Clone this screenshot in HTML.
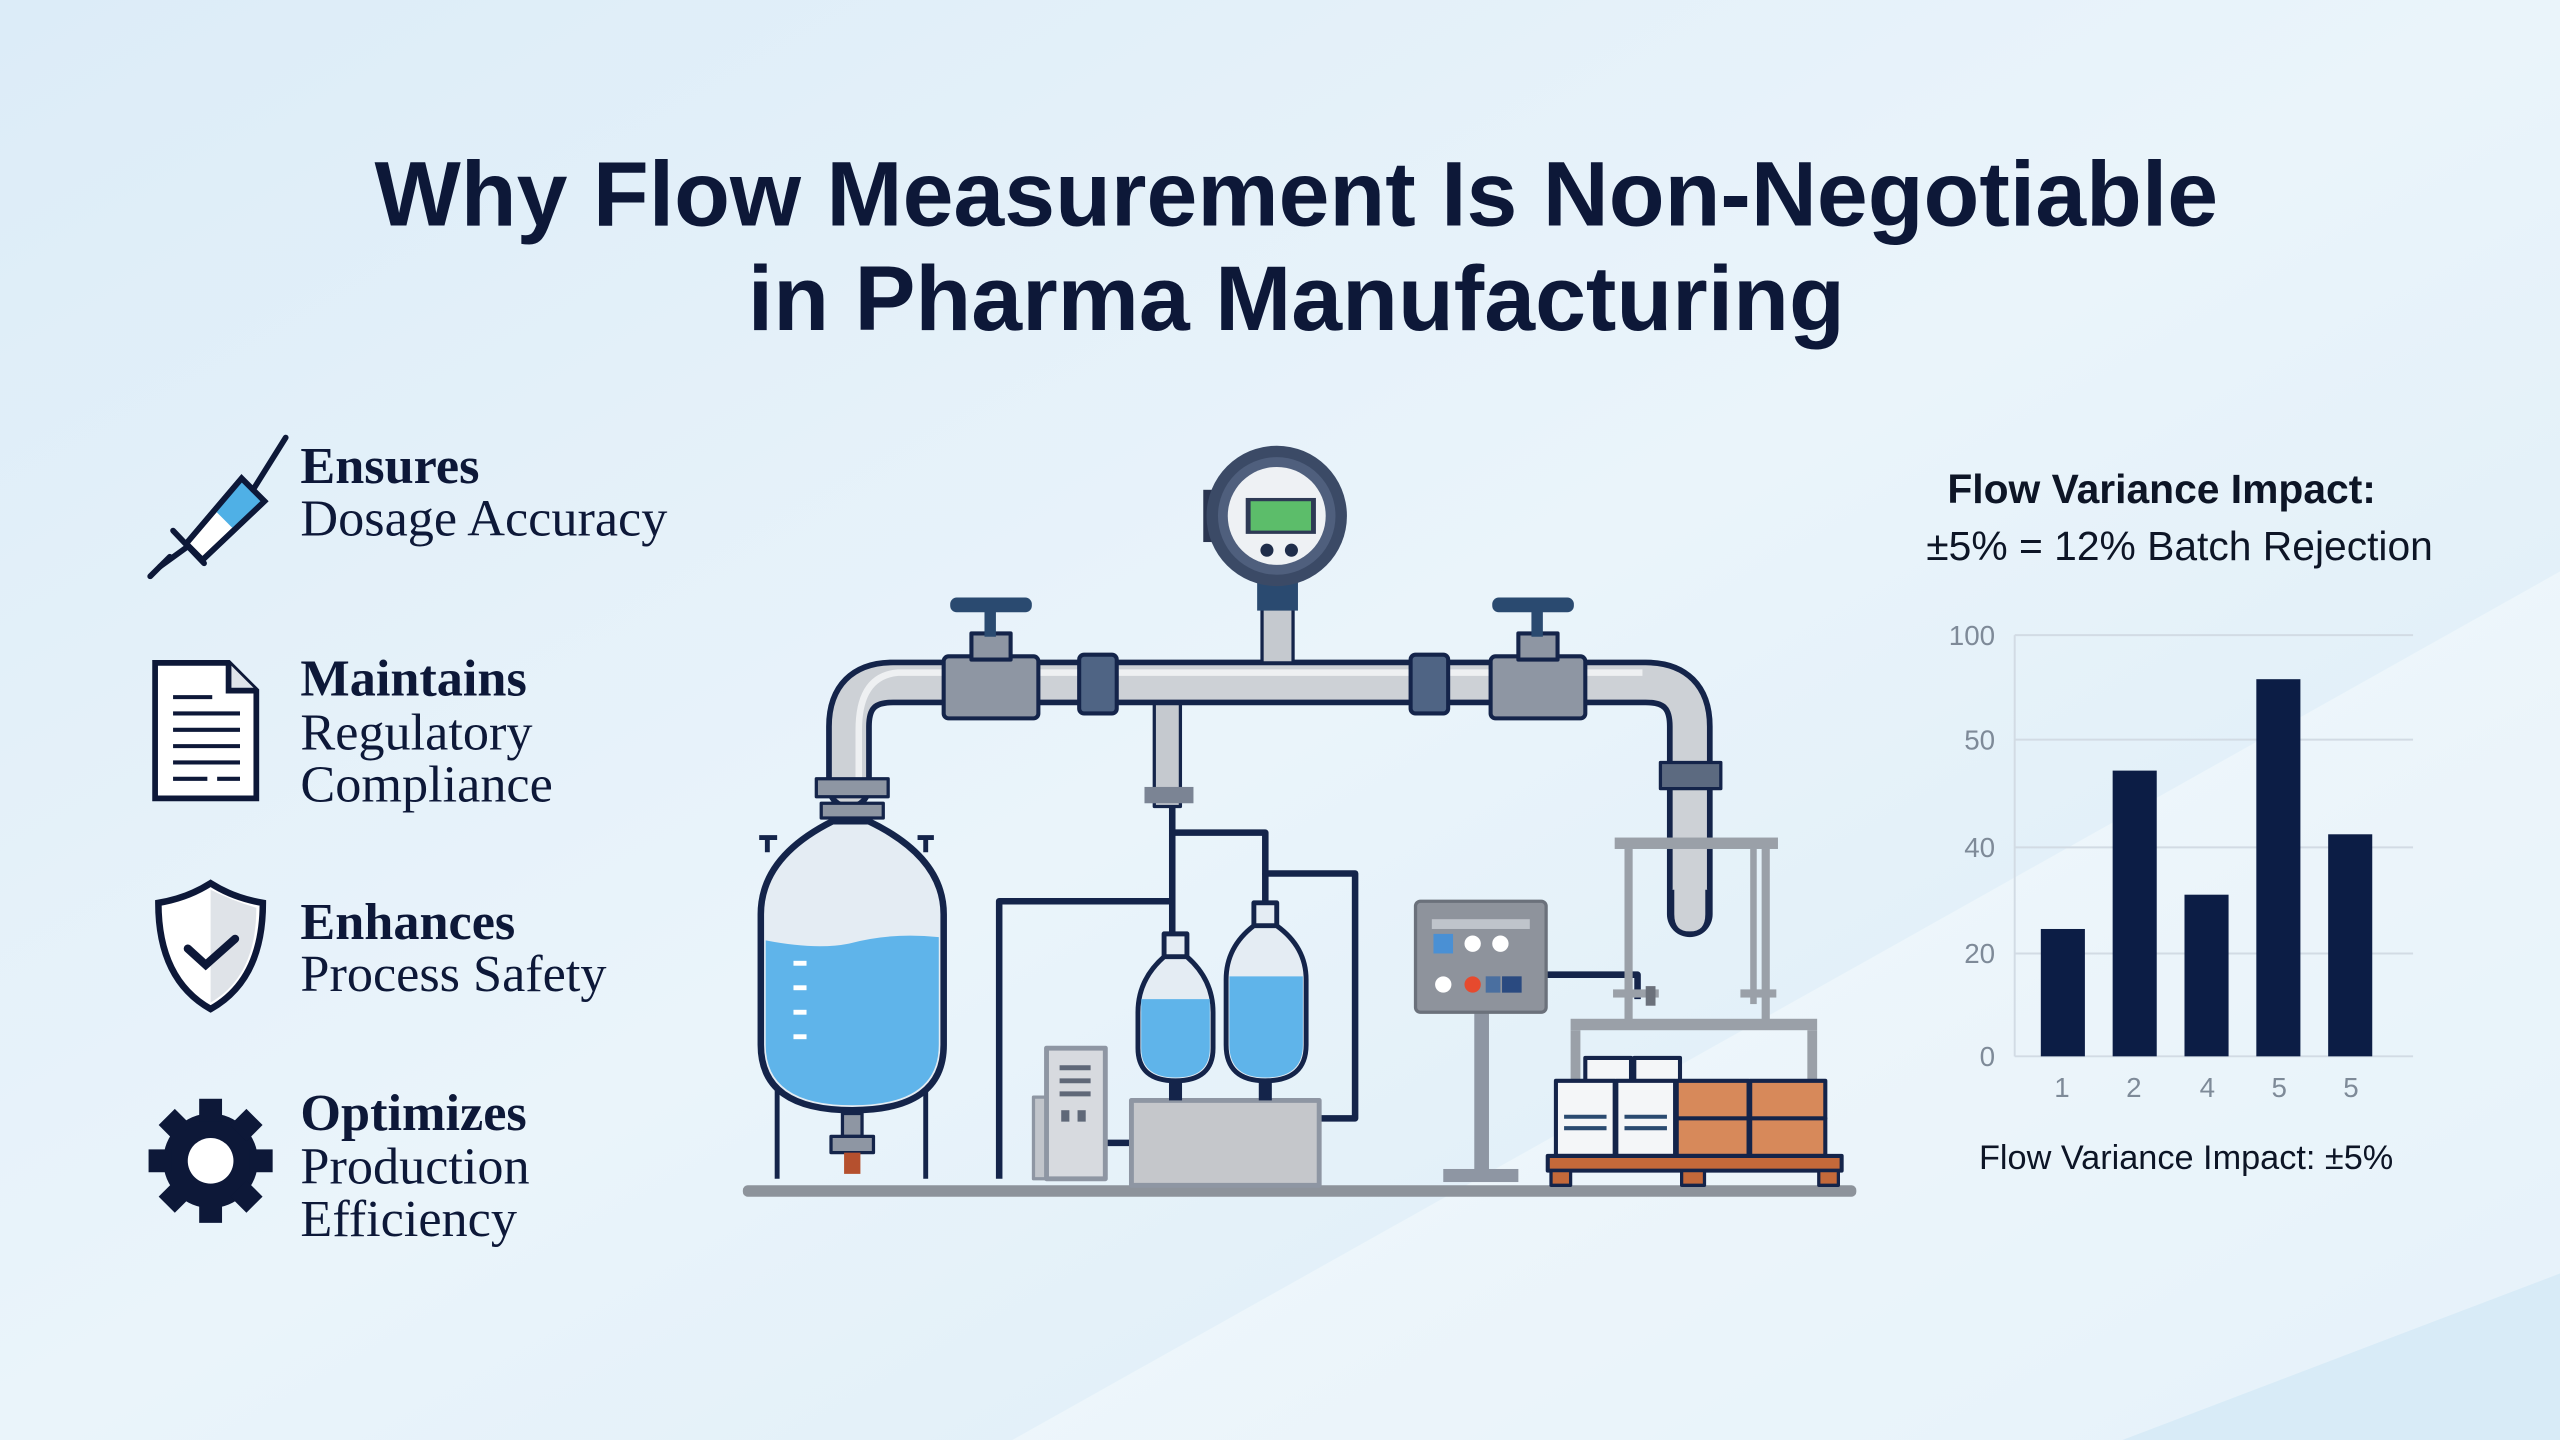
<!DOCTYPE html>
<html><head><meta charset="utf-8"><style>
html,body{margin:0;padding:0;width:2560px;height:1440px;overflow:hidden;background:#e4f1fa;}
svg{display:block}
.t{font-family:"Liberation Sans",sans-serif;font-weight:bold;fill:#0d1838;}
.s{font-family:"Liberation Serif",serif;fill:#0d1838;}
.a{font-family:"Liberation Sans",sans-serif;}
</style></head><body>
<svg width="2560" height="1440" viewBox="0 0 1568 882" preserveAspectRatio="none" xmlns="http://www.w3.org/2000/svg">
<defs>
<linearGradient id="bg" x1="0" y1="0" x2="1" y2="1">
<stop offset="0" stop-color="#dcecf8"/><stop offset="0.5" stop-color="#eaf4fa"/><stop offset="1" stop-color="#d8ebf7"/></linearGradient>
</defs>
<rect width="1568" height="882" fill="url(#bg)"/>
<polygon points="1568,350 1568,882 620,882" fill="#ffffff" opacity="0.35"/>
<polygon points="1568,780 1568,882 1300,882" fill="#cfe6f5" opacity="0.6"/>

<text class="t" x="794" y="138" font-size="56" text-anchor="middle">Why Flow Measurement Is Non-Negotiable</text>
<text class="t" x="794" y="202" font-size="56" text-anchor="middle">in Pharma Manufacturing</text>

<!-- left list -->
<g class="s" font-size="32">
<text x="184" y="296" font-weight="bold">Ensures</text><text x="184" y="328">Dosage Accuracy</text>
<text x="184" y="426" font-weight="bold">Maintains</text><text x="184" y="459">Regulatory</text><text x="184" y="491">Compliance</text>
<text x="184" y="575" font-weight="bold">Enhances</text><text x="184" y="607">Process Safety</text>
<text x="184" y="692" font-weight="bold">Optimizes</text><text x="184" y="725">Production</text><text x="184" y="757">Efficiency</text>
</g>
<!-- syringe -->
<g stroke="#0d1838" stroke-width="3.5" fill="none" stroke-linecap="round">
<line x1="92" y1="353" x2="104" y2="341"/><line x1="98" y1="347" x2="116" y2="334"/>
<line x1="106" y1="325" x2="125" y2="345"/>
<polygon points="114,333 148,293 162,307 124,343" fill="#fff"/>
<polygon points="132,313 148,293 162,307 144,325" fill="#4fb0e6" stroke="none"/>
<polygon points="114,333 148,293 162,307 124,343"/>
<line x1="155" y1="300" x2="175" y2="268"/>
</g>
<!-- document -->
<g stroke="#0d1838" stroke-width="3.5" fill="#fff">
<path d="M95 406 H140 L157 423 V489 H95 Z"/>
<path d="M140 406 V423 H157" fill="#dfe4ea"/>
<g stroke-width="2.5"><line x1="106" y1="427" x2="130" y2="427"/><line x1="106" y1="437" x2="147" y2="437"/><line x1="106" y1="447" x2="147" y2="447"/><line x1="106" y1="457" x2="147" y2="457"/><line x1="106" y1="467" x2="147" y2="467"/><line x1="106" y1="477" x2="127" y2="477"/><line x1="133" y1="477" x2="147" y2="477"/></g>
</g>
<!-- shield -->
<path d="M97 553 Q115 550 129 541 Q143 550 161 553 Q161 600 129 618 Q97 600 97 553 Z" fill="#fff" stroke="#0d1838" stroke-width="4"/>
<path d="M129 545 Q143 552 157 556 Q157 598 129 614 Z" fill="#dfe3e8"/>
<polyline points="115,581 126,591 144,575" fill="none" stroke="#0d1838" stroke-width="5" stroke-linecap="round"/>
<!-- gear -->
<g transform="translate(129,711)" fill="#0d1838">
<circle r="29"/>
<g id="tooth"><rect x="-7" y="-38" width="14" height="14"/></g>
<use href="#tooth" transform="rotate(45)"/><use href="#tooth" transform="rotate(90)"/><use href="#tooth" transform="rotate(135)"/><use href="#tooth" transform="rotate(180)"/><use href="#tooth" transform="rotate(225)"/><use href="#tooth" transform="rotate(270)"/><use href="#tooth" transform="rotate(315)"/>
<circle r="14" fill="#fff"/>
</g>

<!-- ===== process diagram ===== -->
<g stroke-linejoin="round">
<rect x="455" y="726" width="682" height="7" rx="3" fill="#8d939b"/>
<g fill="none" stroke="#14244a" stroke-width="4">
<polyline points="718,430 718,510 775,510 775,535 830,535 830,685 808,685"/>
<polyline points="718,510 718,572"/>
<polyline points="775,535 775,552"/>
<polyline points="718,552 612,552 612,722"/>
<polyline points="946,597 1003,597 1003,612"/>
<line x1="678" y1="700" x2="693" y2="700"/>
</g>
<rect x="707" y="428" width="16" height="66" fill="#c5c9cf" stroke="#14244a" stroke-width="2"/>
<rect x="701" y="482" width="30" height="10" fill="#7b8494"/>
<path d="M520 482 V445 Q520 418 547 418 H1008 Q1035 418 1035 445 V560" fill="none" stroke="#14244a" stroke-width="28" stroke-linecap="round"/>
<path d="M520 482 V445 Q520 418 547 418 H1008 Q1035 418 1035 445 V560" fill="none" stroke="#cdd1d6" stroke-width="21" stroke-linecap="round"/>
<path d="M526 482 V447 Q526 414 550 412 H1006" fill="none" stroke="#eef0f2" stroke-width="4"/>
<rect x="1017" y="467" width="37" height="16" fill="#5c6a80" stroke="#14244a" stroke-width="2"/>
<rect x="500" y="477" width="44" height="11" fill="#8e96a3" stroke="#14244a" stroke-width="2"/>
<rect x="503" y="492" width="38" height="9" fill="#8e96a3" stroke="#14244a" stroke-width="2"/>
<g fill="#8e96a3" stroke="#14244a" stroke-width="2.5">
<rect x="578" y="402" width="58" height="38" rx="3"/><rect x="595" y="388" width="24" height="16"/>
<rect x="913" y="402" width="58" height="38" rx="3"/><rect x="930" y="388" width="24" height="16"/>
</g>
<g fill="#2a4a70">
<rect x="603" y="372" width="7" height="18"/><rect x="582" y="366" width="50" height="9" rx="4"/>
<rect x="938" y="372" width="7" height="18"/><rect x="914" y="366" width="50" height="9" rx="4"/>
</g>
<rect x="661" y="401" width="23" height="36" rx="3" fill="#4f6484" stroke="#14244a" stroke-width="2.5"/>
<rect x="864" y="401" width="23" height="36" rx="3" fill="#4f6484" stroke="#14244a" stroke-width="2.5"/>
<rect x="773" y="372" width="19" height="34" fill="#c5c9cf" stroke="#14244a" stroke-width="2"/>
<rect x="770" y="352" width="25" height="22" fill="#2a4a70"/>
<rect x="737" y="300" width="14" height="32" fill="#2a3550"/>
<circle cx="782" cy="316" r="43" fill="#3b4a66"/>
<circle cx="782" cy="316" r="36" fill="#4f5f7d"/>
<circle cx="782" cy="316" r="30" fill="#eef1f4"/>
<rect x="763" y="305" width="43" height="22" fill="#2e3a55"/>
<rect x="766" y="307" width="37" height="18" fill="#5cbd6a"/>
<circle cx="776" cy="337" r="4" fill="#1f2d4a"/><circle cx="791" cy="337" r="4" fill="#1f2d4a"/>

<g stroke="#14244a" stroke-width="3">
<line x1="476" y1="640" x2="476" y2="722"/><line x1="567" y1="640" x2="567" y2="722"/>
<line x1="470" y1="512" x2="470" y2="522"/><line x1="567" y1="512" x2="567" y2="522"/>
<line x1="465" y1="513" x2="476" y2="513"/><line x1="562" y1="513" x2="572" y2="513"/>
</g>
<path d="M510 503 H532 Q578 525 578 560 V640 Q578 680 522 680 Q466 680 466 640 V560 Q466 525 510 503 Z" fill="#e4ecf3" stroke="#14244a" stroke-width="4"/>
<path d="M469 576 Q500 582 520 578 Q545 571 575 574 V640 Q575 677 522 677 Q469 677 469 640 Z" fill="#5fb4ea"/>
<g stroke="#fff" stroke-width="3"><line x1="486" y1="590" x2="494" y2="590"/><line x1="486" y1="605" x2="494" y2="605"/><line x1="486" y1="620" x2="494" y2="620"/><line x1="486" y1="635" x2="494" y2="635"/></g>
<rect x="516" y="682" width="12" height="14" fill="#8e96a3" stroke="#14244a" stroke-width="2"/>
<rect x="509" y="696" width="26" height="10" fill="#8e96a3" stroke="#14244a" stroke-width="2"/>
<rect x="517" y="706" width="10" height="13" fill="#b5502e"/>

<rect x="633" y="672" width="14" height="50" fill="#c1c5cb" stroke="#8e96a3" stroke-width="2"/>
<rect x="641" y="642" width="36" height="80" fill="#d7dadf" stroke="#8e96a3" stroke-width="3"/>
<g stroke="#5f6878" stroke-width="3"><line x1="649" y1="654" x2="668" y2="654"/><line x1="649" y1="662" x2="668" y2="662"/><line x1="649" y1="670" x2="668" y2="670"/></g>
<rect x="650" y="680" width="5" height="7" fill="#5f6878"/><rect x="660" y="680" width="5" height="7" fill="#5f6878"/>
<rect x="693" y="674" width="115" height="52" fill="#c5c7cb" stroke="#8e96a3" stroke-width="3"/>
<g stroke="#14244a" stroke-width="3">
<rect x="713" y="572" width="14" height="16" fill="#e4ecf3"/>
<rect x="768" y="553" width="14" height="16" fill="#e4ecf3"/>
<path d="M713 586 Q697 600 697 620 V642 Q697 662 720 662 Q743 662 743 642 V620 Q743 600 727 586 Z" fill="#e4ecf3"/>
<path d="M768 567 Q751 580 751 600 V640 Q751 662 775 662 Q800 662 800 640 V600 Q800 580 782 567 Z" fill="#e4ecf3"/>
</g>
<path d="M699 612 H741 V642 Q741 660 720 660 Q699 660 699 642 Z" fill="#5fb4ea"/>
<path d="M753 598 H798 V640 Q798 660 775 660 Q753 660 753 640 Z" fill="#5fb4ea"/>
<g fill="#14244a"><rect x="716" y="662" width="8" height="12"/><rect x="771" y="662" width="8" height="12"/></g>

<rect x="903" y="618" width="9" height="104" fill="#8e96a3"/>
<rect x="884" y="716" width="46" height="8" fill="#8e96a3"/>
<rect x="867" y="552" width="80" height="68" rx="3" fill="#8e939c" stroke="#6b717b" stroke-width="2"/>
<rect x="877" y="563" width="60" height="6" fill="#bfc4cb"/>
<rect x="878" y="572" width="12" height="12" fill="#4a90d4"/>
<circle cx="902" cy="578" r="5" fill="#fff"/><circle cx="919" cy="578" r="5" fill="#fff"/>
<circle cx="884" cy="603" r="5" fill="#fff"/><circle cx="902" cy="603" r="5" fill="#e64a2e"/>
<rect x="910" y="598" width="9" height="10" fill="#4a6fa0"/><rect x="920" y="598" width="12" height="10" fill="#2a4a80"/>

<g fill="#9aa0a8">
<rect x="989" y="513" width="100" height="7"/>
<rect x="995" y="520" width="5" height="108"/><rect x="1079" y="520" width="5" height="108"/>
<rect x="1072" y="520" width="4" height="95"/>
<rect x="988" y="606" width="28" height="5"/><rect x="1066" y="606" width="22" height="5"/>
<rect x="962" y="624" width="151" height="7"/>
<rect x="962" y="631" width="6" height="30"/><rect x="1107" y="631" width="6" height="30"/>
</g>
<rect x="1008" y="604" width="6" height="12" fill="#6b717b"/>
<path d="M1024 545 V560 Q1024 572 1035 572 Q1046 572 1046 560 V545" fill="#cdd1d6" stroke="#14244a" stroke-width="3"/>

<g stroke="#14244a" stroke-width="2.5">
<rect x="971" y="648" width="28" height="16" fill="#f4f6f8"/><rect x="1001" y="648" width="28" height="16" fill="#f4f6f8"/>
<rect x="953" y="662" width="36" height="46" fill="#f4f6f8"/><rect x="990" y="662" width="36" height="46" fill="#f4f6f8"/>
<rect x="1027" y="662" width="44" height="23" fill="#d7895a"/><rect x="1072" y="662" width="46" height="23" fill="#d7895a"/>
<rect x="1027" y="685" width="44" height="23" fill="#d7895a"/><rect x="1072" y="685" width="46" height="23" fill="#d7895a"/>
<rect x="948" y="708" width="180" height="9" fill="#c4693a"/>
</g>
<g fill="#c4693a" stroke="#14244a" stroke-width="2"><rect x="950" y="717" width="12" height="9"/><rect x="1030" y="717" width="14" height="9"/><rect x="1114" y="717" width="12" height="9"/></g>
<g stroke="#2a4a70" stroke-width="2.5"><line x1="958" y1="684" x2="984" y2="684"/><line x1="958" y1="691" x2="984" y2="691"/><line x1="995" y1="684" x2="1021" y2="684"/><line x1="995" y1="691" x2="1021" y2="691"/></g>
</g>

<!-- ===== chart ===== -->
<text class="a" x="1324" y="308" font-size="25" font-weight="bold" text-anchor="middle" fill="#0d1526">Flow Variance Impact:</text>
<text class="a" x="1335" y="343" font-size="25" text-anchor="middle" fill="#0d1526">±5% = 12% Batch Rejection</text>
<g stroke="#d2dbe4" stroke-width="1.2">
<line x1="1234" y1="389" x2="1478" y2="389"/><line x1="1234" y1="453" x2="1478" y2="453"/><line x1="1234" y1="519" x2="1478" y2="519"/><line x1="1234" y1="584" x2="1478" y2="584"/><line x1="1234" y1="647" x2="1478" y2="647"/><line x1="1234" y1="389" x2="1234" y2="647"/>
</g>
<g class="a" font-size="17" fill="#7e8a98" text-anchor="end">
<text x="1222" y="395">100</text><text x="1222" y="459">50</text><text x="1222" y="525">40</text><text x="1222" y="590">20</text><text x="1222" y="653">0</text>
</g>
<g fill="#0c1d45">
<rect x="1250" y="569" width="27" height="78"/><rect x="1294" y="472" width="27" height="175"/><rect x="1338" y="548" width="27" height="99"/><rect x="1382" y="416" width="27" height="231"/><rect x="1426" y="511" width="27" height="136"/>
</g>
<g class="a" font-size="17" fill="#7e8a98" text-anchor="middle">
<text x="1263" y="672">1</text><text x="1307" y="672">2</text><text x="1352" y="672">4</text><text x="1396" y="672">5</text><text x="1440" y="672">5</text>
</g>
<text class="a" x="1339" y="716" font-size="21" text-anchor="middle" fill="#0d1526">Flow Variance Impact: ±5%</text>
</svg>
</body></html>
